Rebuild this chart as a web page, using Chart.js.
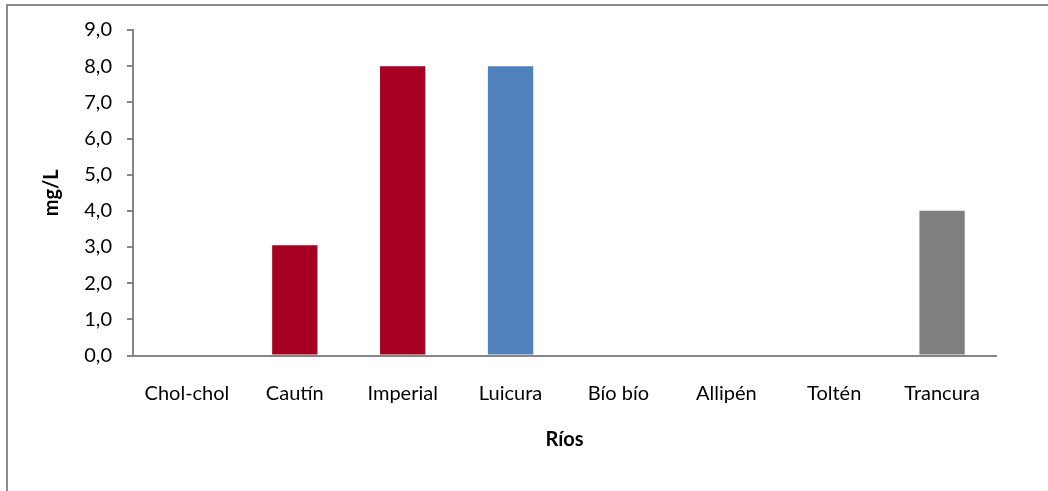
<!DOCTYPE html>
<html>
<head>
<meta charset="utf-8">
<script src="https://cdn.jsdelivr.net/npm/chart.js@4.4.0/dist/chart.umd.min.js"></script>
<style>
  html, body { margin: 0; padding: 0; background: #fff; overflow: hidden; }
  #frame {
    position: absolute; left: 6px; top: 4px;
    width: 1200px; height: 700px;
    border: 2px solid #8a8a8a; box-sizing: border-box;
  }
  #wrap { position: absolute; left: 0; top: 0; width: 1048px; height: 491px; }
</style>
</head>
<body>
<div id="frame"></div>
<div id="wrap"><canvas id="chart" width="1048" height="491"></canvas></div>
<script>
let rivers = ['Chol-chol', 'Cautín', 'Imperial', 'Luicura', 'Bío bío', 'Allipén', 'Toltén', 'Trancura'];
let values = [0, 3.05, 8.0, 8.0, 0, 0, 0, 4.0];
let barColors = ['#A50021', '#A50021', '#A50021', '#4F81BD', '#A50021', '#A50021', '#A50021', '#7F7F7F'];
let yTicks = [0, 1, 2, 3, 4, 5, 6, 7, 8, 9];

let fontFamily = 'Lato, "Open Sans", sans-serif';
let axisGray = '#868686';

let ctx = document.getElementById('chart').getContext('2d');
new Chart(ctx, {
    type: 'bar',
    data: {
        labels: rivers,
        datasets: [{
            data: values,
            backgroundColor: barColors,
            categoryPercentage: 1,
            barPercentage: 0.42
        }]
    },
    options: {
        responsive: false,
        animation: false,
        layout: { padding: { top: 30, right: 52, left: 0, bottom: 0 } },
        plugins: { legend: { display: false }, tooltip: { enabled: false } },
        scales: {
            x: {
                grid: { display: false, drawTicks: false },
                border: { color: axisGray, width: 2 },
                ticks: { color: '#000', padding: 26, font: { family: fontFamily, size: 20 } },
                title: {
                    display: true, text: 'Ríos', color: '#000',
                    font: { family: fontFamily, size: 20, weight: 'bold' },
                    padding: { top: 0, bottom: 39 }
                },
                afterFit: scale => { scale.height = 135.5; }
            },
            y: {
                min: yTicks[0],
                max: yTicks[yTicks.length - 1],
                afterBuildTicks: scale => { scale.ticks = yTicks.map(v => ({ value: v })); },
                grid: { drawOnChartArea: false, drawTicks: true, tickLength: 6, color: axisGray, lineWidth: 2 },
                border: { color: axisGray, width: 2 },
                ticks: {
                    color: '#000', padding: 15,
                    font: { family: fontFamily, size: 20 },
                    callback: v => v.toFixed(1).replace('.', ',')
                },
                title: {
                    display: true, text: 'mg/L', color: '#000',
                    font: { family: fontFamily, size: 20, weight: 'bold' },
                    padding: { top: 40, bottom: 0 }
                },
                afterFit: scale => { scale.width = 133; }
            }
        }
    }
});
</script>
</body>
</html>
